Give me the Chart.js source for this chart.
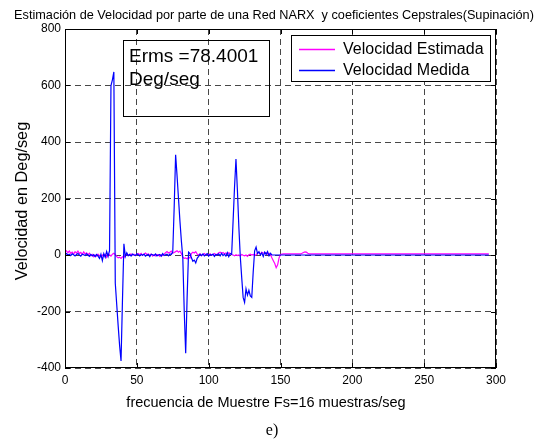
<!DOCTYPE html>
<html>
<head>
<meta charset="utf-8">
<script src="https://cdn.jsdelivr.net/npm/chart.js@4.4.1/dist/chart.umd.min.js"></script>
<style>
html,body{margin:0;padding:0;background:#fff;}
#c{display:block;}
</style>
</head>
<body>
<canvas id="c" width="549" height="440"></canvas>
<script>
// ---- data ----
const titulo = 'Estimación de Velocidad por parte de una Red NARX  y coeficientes Cepstrales(Supinación)';
const etiquetaX = 'frecuencia de Muestre Fs=16 muestras/seg';
const etiquetaY = 'Velocidad en Deg/seg';
const nombresSeries = ['Velocidad Estimada', 'Velocidad Medida'];
const coloresSeries = ['#ff00ff', '#0000ff'];
const textoErms = ['Erms =78.4001', 'Deg/seg'];
const pie = 'e)';
const ticksX = [0, 50, 100, 150, 200, 250, 300];
const ticksY = [-400, -200, 0, 200, 400, 600, 800];

const medida = [
 2,5,0,3,-2,4,1,-3,2,5,
 0,-4,3,1,-2,4,0,-5,2,-3,
 1,-6,2,-4,-12,3,-20,5,-8,12,
 -5,15,600,620,648,-100,-175,-250,-320,-375,
 -160,40,-5,8,-3,2,-4,3,0,-2,
 4,1,-3,2,-1,3,-4,0,2,-6,
 3,1,-2,4,-3,0,2,-4,5,-2,
 1,3,-3,4,2,10,170,355,280,200,
 120,50,-10,-200,-348,-150,10,5,-10,-22,
 -18,-28,-12,-5,3,-2,4,-3,1,5,
 -4,2,-1,3,-5,2,0,4,-3,6,
 -2,3,-4,8,-6,5,2,120,240,340,
 230,100,-5,-80,-150,-168,-120,-142,-125,-145,
 -150,-60,15,28,5,12,0,8,-5,10,
 2,12,-3,6,0,0,0,0,0,0,
 0,0,0,0,0,0,0,0,0,0,
 0,0,0,0,0,0,0,0,0,0,
 0,0,0,0,0,0,0,0,0,0,
 0,0,0,0,0,0,0,0,0,0,
 0,0,0,0,0,0,0,0,0,0,
 0,0,0,0,0,0,0,0,0,0,
 0,0,0,0,0,0,0,0,0,0,
 0,0,0,0,0,0,0,0,0,0,
 0,0,0,0,0,0,0,0,0,0,
 0,0,0,0,0,0,0,0,0,0,
 0,0,0,0,0,0,0,0,0,0,
 0,0,0,0,0,0,0,0,0,0,
 0,0,0,0,0,0,0,0,0,0,
 0,0,0,0,0,0,0,0,0,0,
 0,0,0,0,0,0
];

const estimada = [
 12,15,8,14,6,10,3,12,7,14,
 5,9,2,11,4,8,1,6,-3,2,
 -6,0,-4,3,-2,-7,0,-5,2,-8,
 4,1,-4,3,6,2,-6,-10,-8,-12,
 -6,-9,1,3,-1,2,4,0,3,-2,
 2,5,1,6,-1,3,7,2,4,-1,
 3,-4,1,-3,2,0,-5,1,-2,3,
 8,12,7,10,14,6,9,12,15,10,
 14,5,-8,-12,-10,-14,-8,-11,5,10,
 7,12,3,0,4,-2,2,5,1,3,
 0,4,-1,2,5,1,3,8,10,6,
 9,4,7,3,8,5,2,0,-3,1,
 -2,0,-4,2,-1,-3,0,-5,1,3,
 0,2,-2,1,6,9,4,10,7,5,
 9,3,6,2,-10,-20,-30,-45,-35,-10,
 2,3,4,4,4,4,4,4,4,4,
 4,4,4,4,4,6,9,11,10,6,
 4,4,4,4,4,4,4,4,4,4,
 4,4,4,4,4,4,4,4,4,4,
 4,4,4,4,4,4,4,4,4,4,
 4,4,4,4,4,4,4,4,4,4,
 4,4,4,4,4,4,4,4,4,4,
 4,4,4,4,4,4,4,4,4,4,
 4,4,4,4,4,4,4,4,4,4,
 4,4,4,4,4,4,4,4,4,4,
 4,4,4,4,4,4,4,4,4,4,
 4,4,4,4,4,4,4,4,4,4,
 4,4,4,4,4,4,4,4,4,4,
 4,4,4,4,4,4,4,4,4,4,
 4,4,4,4,4,4
];

const muestras = medida.map((_, i) => i);

// ---- styling ----
const SANS = '"Liberation Sans", Arial, Helvetica, sans-serif';
Chart.defaults.font.family = SANS;
Chart.defaults.font.size = 12;
Chart.defaults.color = '#000';

const decor = {
  id: 'decor',
  afterDatasetsDraw(chart) {
    const ctx = chart.ctx;
    const a = chart.chartArea;
    const xs = chart.scales.x, ys = chart.scales.y;
    ctx.save();
    // axes box
    ctx.strokeStyle = '#000';
    ctx.lineWidth = 1;
    ctx.setLineDash([]);
    ctx.strokeRect(Math.round(a.left) + 0.5, Math.round(a.top) + 0.5,
                   Math.round(a.right) - Math.round(a.left) - 1, Math.round(a.bottom) - Math.round(a.top) - 1);
    // inward ticks
    const TL = 5;
    ctx.beginPath();
    ticksX.forEach(v => {
      const px = Math.round(xs.getPixelForValue(v)) + 0.5;
      ctx.moveTo(px, a.bottom); ctx.lineTo(px, a.bottom - TL);
      ctx.moveTo(px, a.top); ctx.lineTo(px, a.top + TL);
    });
    ticksY.forEach(v => {
      const py = Math.round(ys.getPixelForValue(v)) + 0.5;
      ctx.moveTo(a.left, py); ctx.lineTo(a.left + TL, py);
      ctx.moveTo(a.right, py); ctx.lineTo(a.right - TL, py);
    });
    ctx.stroke();

    // Erms annotation (transparent box)
    ctx.strokeRect(123.5, 40.5, 146, 76);
    ctx.fillStyle = '#000';
    ctx.font = '19px ' + SANS;
    ctx.textAlign = 'left';
    ctx.textBaseline = 'alphabetic';
    ctx.fillText(textoErms[0], 129, 62);
    ctx.fillText(textoErms[1], 129, 85);

    // legend
    ctx.fillStyle = '#fff';
    ctx.fillRect(291.5, 35.5, 199, 46);
    ctx.strokeStyle = '#000';
    ctx.lineWidth = 1;
    ctx.strokeRect(291.5, 35.5, 199, 46);
    const rowsY = [49, 70];
    ctx.font = '16px ' + SANS;
    ctx.textBaseline = 'middle';
    for (let i = 0; i < 2; i++) {
      ctx.strokeStyle = coloresSeries[i];
      ctx.lineWidth = 1.3;
      ctx.beginPath();
      ctx.moveTo(299, rowsY[i] + 0.5); ctx.lineTo(335, rowsY[i] + 0.5);
      ctx.stroke();
      ctx.fillStyle = '#000';
      ctx.fillText(nombresSeries[i], 343, rowsY[i] + 1);
    }
    ctx.restore();
  },
  afterDraw(chart) {
    const ctx = chart.ctx;
    ctx.save();
    ctx.fillStyle = '#000';
    ctx.textBaseline = 'alphabetic';
    ctx.textAlign = 'center';
    ctx.font = '12.7px ' + SANS;
    ctx.fillText(titulo, 274, 19);
    ctx.font = '14.5px ' + SANS;
    ctx.fillText(etiquetaX, 266, 407);
    ctx.font = '16px "Liberation Serif", "Times New Roman", serif';
    ctx.fillText(pie, 272, 435);
    ctx.translate(27, 201);
    ctx.rotate(-Math.PI / 2);
    ctx.font = '16.3px ' + SANS;
    ctx.fillText(etiquetaY, 0, 0);
    ctx.restore();
  }
};

new Chart(document.getElementById('c'), {
  type: 'line',
  data: {
    labels: muestras,
    datasets: [
      { label: nombresSeries[1], data: medida, borderColor: coloresSeries[1], borderWidth: 1.2,
        pointRadius: 0, tension: 0, fill: false, order: 0 },
      { label: nombresSeries[0], data: estimada, borderColor: coloresSeries[0], borderWidth: 1.2,
        pointRadius: 0, tension: 0, fill: false, order: 1 }
    ]
  },
  options: {
    responsive: false,
    animation: false,
    events: [],
    layout: { padding: { left: 0, top: 29, right: 53, bottom: 0 } },
    scales: {
      x: {
        type: 'linear', min: 0, max: 300,
        afterBuildTicks(s) { s.ticks = ticksX.map(v => ({ value: v })); },
        afterFit(s) { s.height = 72; },
        ticks: { padding: 5, maxRotation: 0, autoSkip: false, font: { size: 12 }, color: '#000' },
        grid: { color: 'rgba(0,0,0,0.72)', lineWidth: 1, drawTicks: false },
        border: { display: false, dash: [6, 4] }
      },
      y: {
        type: 'linear', min: -400, max: 800,
        afterBuildTicks(s) { s.ticks = ticksY.map(v => ({ value: v })); },
        afterFit(s) { s.width = 65; },
        ticks: { padding: 4, font: { size: 12 }, color: '#000' },
        grid: { color: 'rgba(0,0,0,0.72)', lineWidth: 1, drawTicks: false },
        border: { display: false, dash: [6, 4] }
      }
    },
    plugins: { legend: { display: false }, title: { display: false }, tooltip: { enabled: false } }
  },
  plugins: [decor]
});
</script>
</body>
</html>
